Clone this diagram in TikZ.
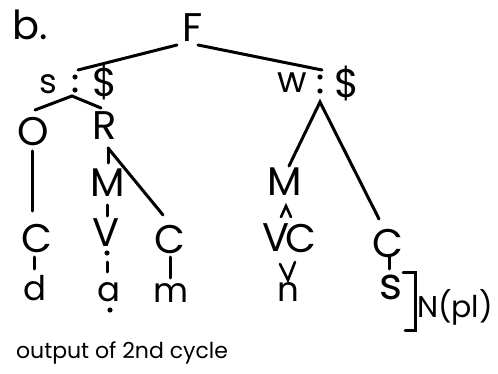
\documentclass[tikz,border=0pt]{standalone}
\usepackage{fontspec}
\setmainfont{Poppins}

\tikzset{
  lbl/.style={inner sep=0pt, font=\fontsize{20}{24}\selectfont},
  lc/.style={inner sep=0pt, font=\fontsize{17}{20}\selectfont},
  note/.style={inner sep=0pt, font=\fontsize{11}{13}\selectfont},
  dot/.style={circle, fill, inner sep=0pt, minimum size=2.6pt},
}

\begin{document}
\begin{tikzpicture}[x=0.5pt,y=-0.5pt,line width=1.5pt,line cap=round]
\useasboundingbox (0,0) rectangle (498,374);

%% labels of the tree
\node[lbl] (b) at (30,25) {b.};
\node[lbl] (F) at (193,28) {F};

\node[lc] (s) at (48,84) {s};
\node[dot] (sc1) at (75,77) {};
\node[dot] (sc2) at (75,90) {};
\node[lbl] (sd) at (105,82) {\$};

\node[lc, font=\fontsize{18}{20}\selectfont] (w) at (292,83) {w};
\node[dot] (wc1) at (320,77) {};
\node[dot] (wc2) at (320,91) {};
\node[lbl] (wd) at (347,83) {\$};

\node[lbl] (O) at (33,132) {O};
\node[lbl] (R) at (105,126) {R};

\node[lbl] (C1) at (37,238) {C};
\node[lc] (d) at (35,288) {d};

\node[lbl] (M1) at (108,183) {M};
\node[lbl] (V1) at (106,233) {V};
\node[dot] (i1) at (107,253) {};
\node[lc] (a) at (109,292) {a};
\node[dot] (a1) at (110,310) {};

\node[lbl] (C2) at (170,239) {C};
\node[lc] (m) at (171,293) {m};

\node[lbl] (M2) at (285,182) {M};
\node[lbl] (V2) at (276,238) {V};
\node[lbl] (C3) at (301,238) {C};
\node[lc] (n) at (288,292) {n};

\node[lbl] (C4) at (388,243) {C};
\node[lc, font=\fontsize{22}{24}\selectfont] (s2) at (391,287) {s};

\node[note, font=\fontsize{15}{17}\selectfont] (pl) at (455,307) {N(pl)};
\node[note] (cap) at (122,353) {output of 2nd cycle};

%% line ends
\coordinate (Fl) at (177,45);
\coordinate (Fr) at (198,45);
\coordinate (sl) at (78,70);
\coordinate (wr) at (322,70);
\coordinate (sj) at (72,96);
\coordinate (wj) at (320,102);
\coordinate (Ot) at (35,110);
\coordinate (Rt) at (101,108);
\coordinate (Ob) at (32,151);
\coordinate (C1t) at (32,211);
\coordinate (C1b) at (34,257);
\coordinate (dt) at (34,269);
\coordinate (Rb) at (108,148);
\coordinate (M1t) at (108,163);
\coordinate (C2t) at (163,215);
\coordinate (M1b) at (107,205);
\coordinate (V1t) at (107,216);
\coordinate (i1b) at (107,262);
\coordinate (at) at (107,272);
\coordinate (C2b) at (170,257);
\coordinate (mt) at (170,278);
\coordinate (M2t) at (289,166);
\coordinate (C4t) at (379,219);
\coordinate (C4b) at (389,257);
\coordinate (s2t) at (389,269);

%% branches
\draw (Fl) -- (sl);
\draw (Fr) -- (wr);
\draw (Ot) -- (sj) -- (Rt);
\draw (Ob) -- (C1t);
\draw (C1b) -- (dt);
\draw (Rb) -- (M1t);
\draw (Rb) -- (C2t);
\draw (M1b) -- (V1t);
\draw (i1b) -- (at);
\draw (C2b) -- (mt);
\draw (M2t) -- (wj) -- (C4t);
\draw (C4b) -- (s2t);

%% carets round the V and C under M
\draw[line width=1.3pt] (281,217) -- (286,206) -- (291,217);
\draw[line width=1.3pt] (280,264) -- (288,280) -- (295,262);

%% bracket
\draw (403,272) -- (415,272) -- (415,330) -- (405,330);

\end{tikzpicture}
\end{document}
